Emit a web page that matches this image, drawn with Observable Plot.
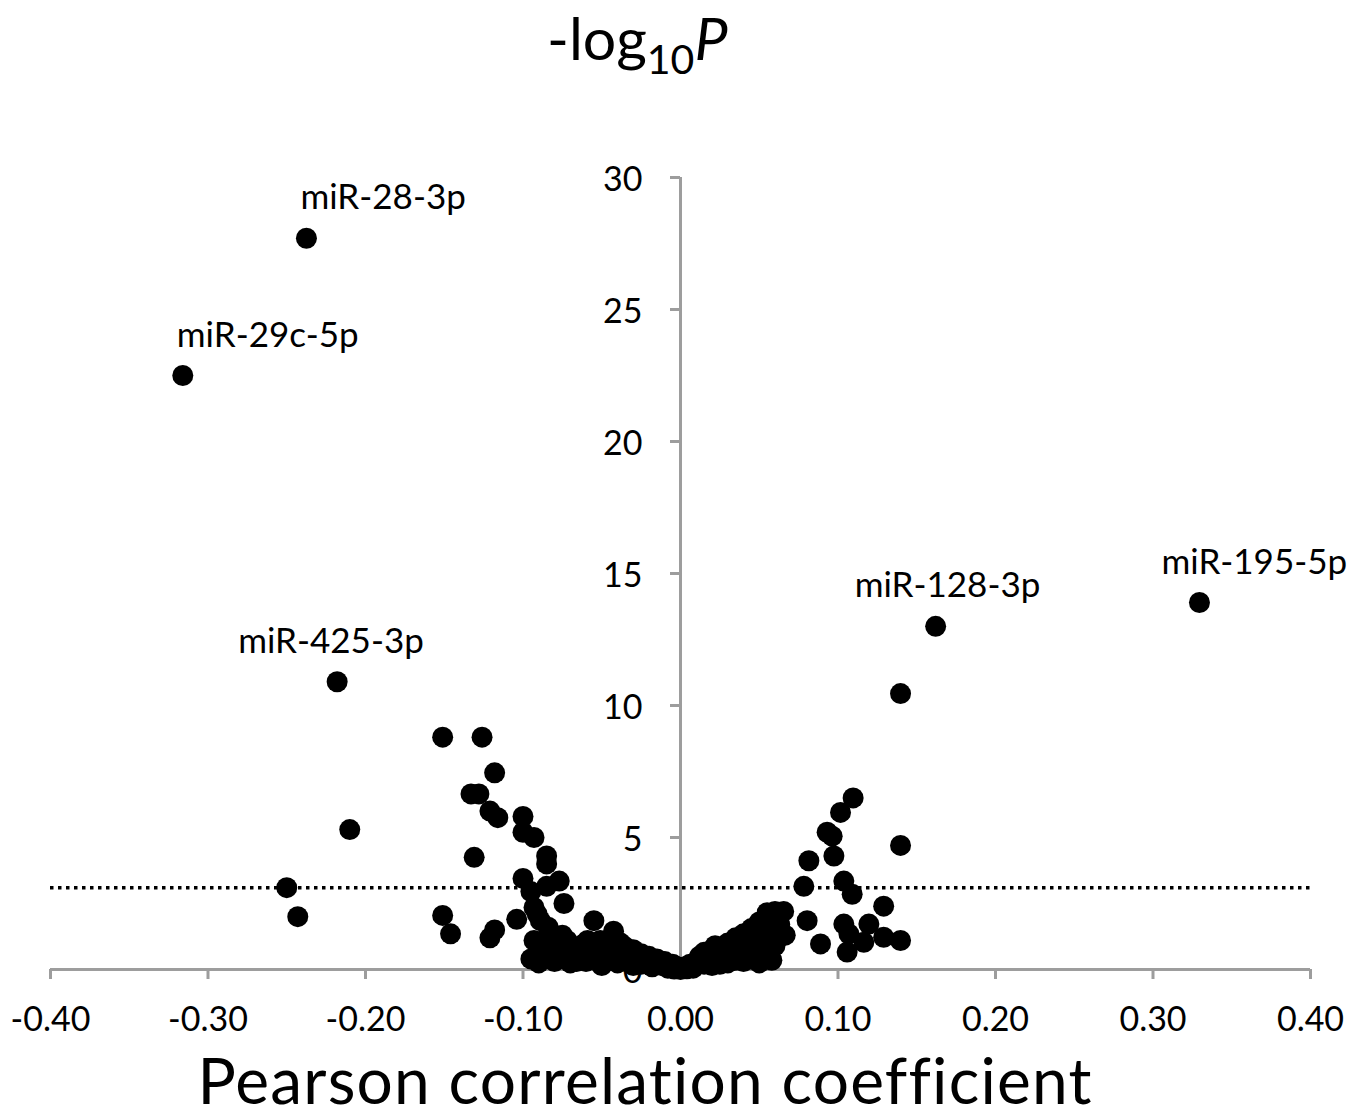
<!DOCTYPE html>
<html>
<head>
<meta charset="utf-8">
<script src="https://cdn.jsdelivr.net/npm/d3@7"></script>
<script src="https://cdn.jsdelivr.net/npm/@observablehq/plot@0.6"></script>
<style>
  body { margin: 0; background: #fff; font-family: Lato, "Open Sans", sans-serif; }
  #wrap { position: relative; width: 1357px; height: 1120px; overflow: hidden; }
  #title { position: absolute; left: 547px; top: 2px; font-size: 59px; line-height: 71px; white-space: nowrap; color: #000; }
  #title .sub { font-size: 41px; position: relative; top: 14px; }
  #title i { font-style: italic; }
  #chart { position: absolute; left: 0; top: 120px; }
  #xlabel { position: absolute; left: 0; width: 1290px; top: 1041px; text-align: center; font-size: 64px; line-height: 77px; letter-spacing: 1.2px; white-space: nowrap; color: #000; }
  #chart svg circle { filter: blur(0.7px); }
</style>
</head>
<body>
<div id="wrap">
  <div id="title">-log<span class="sub">10</span><i>P</i></div>
  <div id="chart"></div>
  <div id="xlabel">Pearson correlation coefficient</div>
</div>
<script>
// ---- data ----
const correlation = [
  -0.316, -0.2375, -0.218, -0.210, -0.250, -0.243,
  -0.151, -0.126, -0.118, -0.133, -0.128, -0.121, -0.116, -0.100, -0.100, -0.093,
  -0.131, -0.085, -0.085, -0.100, -0.077, -0.085, -0.095, -0.074, -0.093,
  -0.151, -0.146, -0.118, -0.121, -0.104, -0.091, -0.089, -0.084, -0.055, -0.0425,
  -0.093, -0.085, -0.072, -0.059, -0.051, -0.0825, -0.072, -0.059, -0.049, -0.038,
  -0.035, -0.030, -0.025, -0.020, -0.015, -0.010, -0.005, -0.002, -0.030, -0.020,
  -0.012, -0.025, -0.040, -0.045, -0.065, -0.078, -0.088, -0.035, -0.008, -0.018,
  -0.066, -0.090,
  -0.095, -0.090, -0.080, -0.070, -0.060, -0.055, -0.045, -0.040, -0.030, -0.050,
  -0.062, -0.075, -0.068, -0.004, 0.000,
  0.003, 0.006, 0.010, 0.012, 0.015, 0.018, 0.020, 0.022, 0.025, 0.028,
  0.030, 0.032, 0.035, 0.038, 0.040, 0.042, 0.045, 0.047, 0.050, 0.052,
  0.053, 0.055, 0.058, 0.060, 0.0655, 0.062, 0.0665, 0.045, 0.035, 0.055,
  0.008, 0.025,
  0.015, 0.020, 0.030, 0.040, 0.045, 0.050, 0.055, 0.060, 0.050, 0.038,
  0.028, 0.058, 0.063, 0.004,
  0.162, 0.3295, 0.1397, 0.1096, 0.1016, 0.0931, 0.0963, 0.0974, 0.0815, 0.1397,
  0.0783, 0.1037, 0.109, 0.129, 0.0804, 0.1037, 0.1196, 0.1069, 0.1164, 0.129,
  0.1397, 0.0889, 0.1058
];
const negLog10P = [
  22.5, 27.7, 10.9, 5.3, 3.1, 2.0,
  8.8, 8.8, 7.45, 6.65, 6.65, 6.0, 5.75, 5.8, 5.2, 5.0,
  4.25, 4.3, 4.0, 3.45, 3.35, 3.15, 2.95, 2.5, 2.35,
  2.05, 1.35, 1.5, 1.2, 1.9, 2.1, 1.85, 1.6, 1.85, 1.45,
  1.1, 1.1, 1.1, 1.1, 1.1, 0.5, 0.5, 0.5, 0.5, 1.0,
  0.85, 0.75, 0.6, 0.5, 0.4, 0.3, 0.2, 0.1, 0.4, 0.25,
  0.15, 0.2, 0.6, 0.8, 0.8, 0.8, 0.8, 0.3, 0.05, 0.1,
  0.3, 0.75,
  0.4, 0.25, 0.3, 0.25, 0.3, 0.7, 0.4, 0.25, 0.15, 0.15,
  0.95, 1.3, 0.6, 0.02, 0.0,
  0.1, 0.2, 0.3, 0.5, 0.65, 0.4, 0.75, 0.9, 0.5, 0.85,
  1.0, 0.6, 1.2, 0.9, 1.35, 0.7, 1.55, 1.1, 1.8, 0.9,
  1.4, 2.15, 1.7, 2.2, 2.2, 1.2, 1.3, 0.4, 0.35, 0.6,
  0.05, 0.2,
  0.2, 0.15, 0.25, 0.3, 0.85, 0.5, 1.2, 0.9, 0.25, 0.5,
  0.45, 0.35, 1.7, 0.03,
  13.0, 13.9, 10.45, 6.5, 5.95, 5.2, 5.05, 4.3, 4.12, 4.7,
  3.15, 3.35, 2.85, 2.4, 1.85, 1.72, 1.72, 1.35, 1.03, 1.22,
  1.1, 0.97, 0.66
];
const labelNames = ["miR-29c-5p", "miR-28-3p", "miR-425-3p", "miR-128-3p", "miR-195-5p"];
const labelX = [-0.316, -0.2375, -0.218, 0.162, 0.3295];
const labelY = [22.5, 27.7, 10.9, 13.0, 13.9];
const threshold = 3.1;
const xTicks = [-0.4, -0.3, -0.2, -0.1, 0, 0.1, 0.2, 0.3, 0.4];
const xTickLabels = ["-0.40", "-0.30", "-0.20", "-0.10", "0.00", "0.10", "0.20", "0.30", "0.40"];
const yTicks = [0, 5, 10, 15, 20, 25, 30];
const yTickLabels = ["0", "5", "10", "15", "20", "25", "30"];

// ---- build tables ----
const points = correlation.map((x, i) => ({x, y: negLog10P[i]}));
const labels = labelNames.map((name, i) => ({name, x: labelX[i], y: labelY[i]}));
const labelShift = {"miR-29c-5p": -6, "miR-28-3p": -6, "miR-425-3p": -99, "miR-128-3p": -81, "miR-195-5p": -38};

const axisColor = "#9d9d9d";
const font = "Lato, 'Open Sans', sans-serif";

const chart = Plot.plot({
  width: 1357,
  height: 929,
  marginLeft: 50,
  marginRight: 47,
  marginTop: 57,
  marginBottom: 80,
  style: {fontFamily: font, background: "white"},
  x: {domain: [-0.4, 0.4], axis: null},
  y: {domain: [0, 30], axis: null},
  marks: [
    Plot.ruleY([0], {x1: -0.4, x2: 0.4, stroke: axisColor, strokeWidth: 3}),
    Plot.ruleX([0], {y1: 0, y2: 30, stroke: axisColor, strokeWidth: 3}),
    Plot.ruleX(xTicks, {x: d => d, y1: 0, y2: 0, insetBottom: -10, stroke: axisColor, strokeWidth: 3}),
    Plot.ruleY(yTicks, {y: d => d, x1: 0, x2: 0, insetLeft: -10, stroke: axisColor, strokeWidth: 3}),
    Plot.ruleY([threshold], {x1: -0.4, x2: 0.4, stroke: "black", strokeWidth: 3.5, strokeDasharray: "3.5,4.5"}),
    Plot.text(xTicks, {x: d => d, y: 0, text: (d, i) => xTickLabels[i], dy: 51, fontSize: 34, fill: "black"}),
    Plot.text(yTicks, {x: 0, y: d => d, text: (d, i) => yTickLabels[i], dx: -38, dy: 3, textAnchor: "end", fontSize: 34, fill: "black"}),
    Plot.dot(points, {x: "x", y: "y", r: 10.5, fill: "black", stroke: "none"}),
    ...labels.map(l => Plot.text([l], {x: "x", y: "y", text: "name", textAnchor: "start", lineAnchor: "bottom", dx: labelShift[l.name], dy: -29, fontSize: 35, fill: "black"}))
  ]
});
document.getElementById("chart").appendChild(chart);
</script>
</body>
</html>
